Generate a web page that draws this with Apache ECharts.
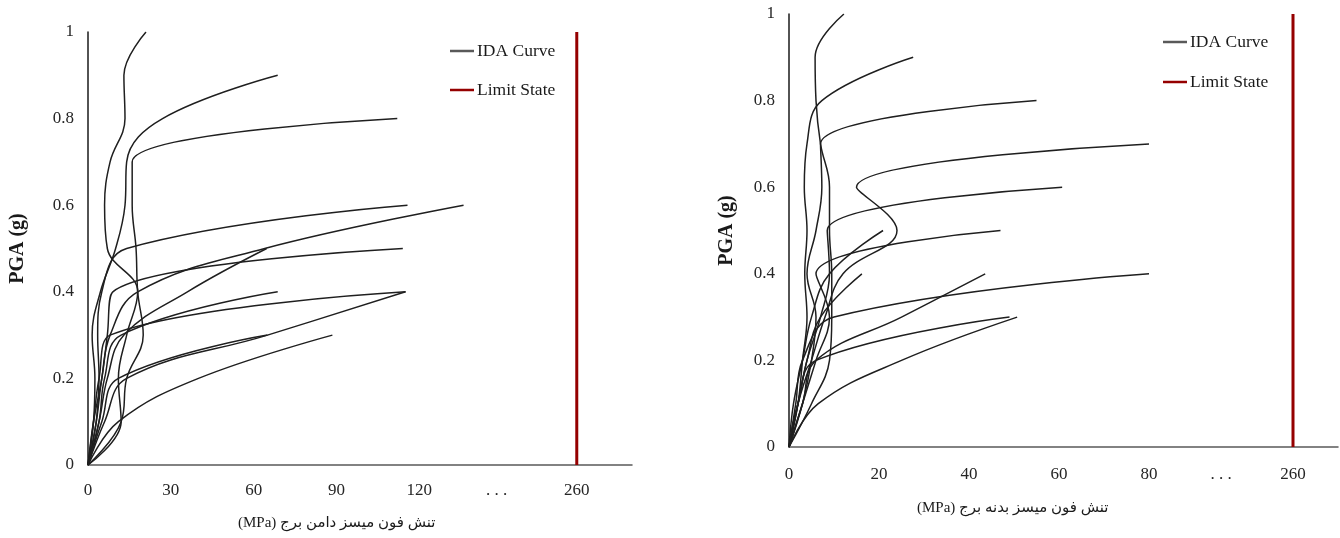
<!DOCTYPE html>
<html>
<head>
<meta charset="utf-8">
<script src="https://cdn.jsdelivr.net/npm/echarts@6/dist/echarts.min.js"></script>
<style>
  html, body { margin: 0; padding: 0; background: #fff; }
  #chart { width: 1340px; height: 538px; }
</style>
</head>
<body>
<div id="chart"></div>
<script>
// PGA steps of the IDA records (g)
const pgaLevels = [0, 0.1, 0.2, 0.3, 0.4, 0.5, 0.6, 0.7, 0.8, 0.9, 1.0]

// von Mises stress at tower skirt (MPa), one array per record
const skirt1 = [0, 12, 11, 14, 18, 7, 6, 8, 13.4, 13, 21]
const skirt2 = [0, 2, 2.5, 1.5, 4.5, 10, 13.4, 14, 27, 68.7]
const skirt3 = [0, 12, 14, 20, 18, 17.4, 16, 16, 112]
const skirt4 = [0, 3, 4, 3.5, 5, 14, 115.7]
const skirt5 = [0, 3, 5, 8, 18, 64, 136]
const skirt6 = [0, 4, 7, 13, 36, 64.7]
const skirt7 = [0, 2, 5, 7, 9, 114]
const skirt8 = [0, 4, 6, 12, 68.7]
const skirt9 = [0, 2, 4, 8, 115]
const skirt10 = [0, 6, 14, 65, 115]
const skirt11 = [0, 5, 11, 65]
const skirt12 = [0, 11, 40, 88.5]

// von Mises stress at tower body (MPa)
const body1 = [0, 5, 9, 9.5, 9.5, 9, 9, 7, 6, 5.8, 12.2]
const body2 = [0, 2, 3, 4, 3.5, 4, 3.4, 4, 7.3, 27.6]
const body3 = [0, 3, 5, 6, 4, 6, 7.3, 7, 55]
const body4 = [0, 2, 5, 8, 12, 24, 15, 80]
const body5 = [0, 2, 4, 7, 9, 8.5, 60.7]
const body6 = [0, 1, 3, 5, 9, 20.9]
const body7 = [0, 3, 6, 9, 6, 47]
const body8 = [0, 3, 6, 25, 43.6]
const body9 = [0, 2, 4, 7, 16.2]
const body10 = [0, 1.5, 3, 10, 80]
const body11 = [0, 2, 6, 49]
const body12 = [0, 6.5, 25, 50.7]

const limitStress = 260

// x axis tick labels (axis is broken after the last regular tick)
const skirtTickLabels = ['0', '30', '60', '90', '120', '. . .', '260']
const bodyTickLabels = ['0', '20', '40', '60', '80', '. . .', '260']

const skirtCurves = [skirt1, skirt2, skirt3, skirt4, skirt5, skirt6, skirt7, skirt8, skirt9, skirt10, skirt11, skirt12]
const bodyCurves = [body1, body2, body3, body4, body5, body6, body7, body8, body9, body10, body11, body12]

// where the tick labels sit on the (compressed) axis
const skirtTickPos = [0, 30, 60, 90, 120, 148, 177]
const bodyTickPos = [0, 20, 40, 60, 80, 96, 112]

const serif = '"Liberation Serif", "DejaVu Serif", serif'
const persian = '"Liberation Serif", "DejaVu Sans", sans-serif'

const limitX = (labels, pos) => pos[labels.indexOf(String(limitStress))]

const curveSeries = (curves, idx) =>
  curves.map(xs => ({
    name: 'IDA Curve',
    type: 'line',
    xAxisIndex: idx,
    yAxisIndex: idx,
    smooth: 0.4,
    showSymbol: false,
    silent: true,
    color: '#1f1f1f',
    lineStyle: { width: 1.5, color: '#1f1f1f' },
    data: xs.map((x, i) => [x, pgaLevels[i]]),
  }))

const limitSeries = (labels, pos, idx) => ({
  name: 'Limit State',
  type: 'line',
  xAxisIndex: idx,
  yAxisIndex: idx,
  showSymbol: false,
  silent: true,
  color: '#950000',
  lineStyle: { width: 3, color: '#950000' },
  data: [[limitX(labels, pos), 0], [limitX(labels, pos), 1]],
})

const xAxisOf = (idx, max, labels, pos, margin) => ({
  type: 'value',
  gridIndex: idx,
  min: 0,
  max: max,
  splitLine: { show: false },
  axisTick: { show: false },
  axisLine: { show: true, lineStyle: { color: '#595959', width: 1.5 } },
  axisLabel: {
    customValues: pos,
    formatter: v => labels[pos.indexOf(v)],
    color: '#262626',
    fontFamily: serif,
    fontSize: 17,
    margin: margin,
  },
})

const yAxisOf = (idx, gap) => ({
  type: 'value',
  gridIndex: idx,
  min: 0,
  max: 1,
  interval: 0.2,
  name: 'PGA (g)',
  nameLocation: 'middle',
  nameGap: gap,
  nameRotate: 90,
  nameTextStyle: { fontFamily: serif, fontSize: 20, fontWeight: 'bold', color: '#1a1a1a' },
  splitLine: { show: false },
  axisTick: { show: false },
  axisLine: { show: true, lineStyle: { color: '#1a1a1a', width: 1.5 } },
  axisLabel: { color: '#262626', fontFamily: serif, fontSize: 17, margin: 14 },
})

const legendOf = (left, top, gap) => ({
  left: left,
  top: top,
  orient: 'vertical',
  icon: 'rect',
  itemWidth: 24,
  itemHeight: 2.5,
  itemGap: gap,
  selectedMode: false,
  data: [
    { name: 'IDA Curve', itemStyle: { color: '#595959' } },
    { name: 'Limit State', itemStyle: { color: '#950000' } },
  ],
  textStyle: { fontFamily: serif, fontSize: 17.5, lineHeight: 18, color: '#1a1a1a', padding: [0, 0, 0, -2] },
})

let chart = echarts.init(document.getElementById('chart'))
let option = {
  animation: false,
  backgroundColor: '#fff',
  grid: [
    { left: 88, top: 32, width: 544, height: 433 },
    { left: 789, top: 14, width: 549, height: 433 },
  ],
  legend: [legendOf(445, 37, 21), legendOf(1158, 28, 22)],
  xAxis: [
    xAxisOf(0, 197, skirtTickLabels, skirtTickPos, 17),
    xAxisOf(1, 122, bodyTickLabels, bodyTickPos, 19),
  ],
  yAxis: [yAxisOf(0, 60), yAxisOf(1, 52)],
  graphic: [
    {
      type: 'text', left: 238, top: 516,
      style: { text: '(MPa) تنش فون میسز دامن برج', font: '15px ' + persian, fill: '#1a1a1a' },
    },
    {
      type: 'text', left: 917, top: 501,
      style: { text: '(MPa) تنش فون میسز بدنه برج', font: '15px ' + persian, fill: '#1a1a1a' },
    },
  ],
  series: [
    ...curveSeries(skirtCurves, 0),
    limitSeries(skirtTickLabels, skirtTickPos, 0),
    ...curveSeries(bodyCurves, 1),
    limitSeries(bodyTickLabels, bodyTickPos, 1),
  ],
}
chart.setOption(option)
</script>
</body>
</html>
